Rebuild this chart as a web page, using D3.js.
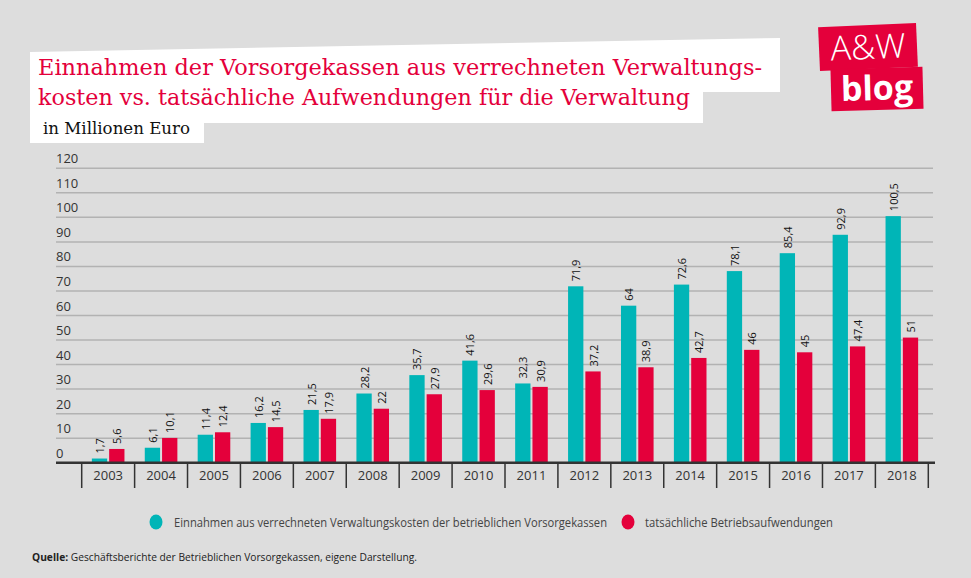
<!DOCTYPE html>
<html><head><meta charset="utf-8">
<script src="https://cdn.jsdelivr.net/npm/d3@7"></script>
<style>html,body{margin:0;padding:0;background:#dddddd;}svg{display:block;}</style>
</head><body><svg id="c" width="971" height="578"></svg>
<script>
const years = ["2003","2004","2005","2006","2007","2008","2009","2010","2011","2012","2013","2014","2015","2016","2017","2018"];
const einnahmen = [1.7,6.1,11.4,16.2,21.5,28.2,35.7,41.6,32.3,71.9,64,72.6,78.1,85.4,92.9,100.5];
const aufwendungen = [5.6,10.1,12.4,14.5,17.9,22,27.9,29.6,30.9,37.2,38.9,42.7,46,45,47.4,51];
const yTicks = [0,10,20,30,40,50,60,70,80,90,100,110,120];
const seriesNames = ["Einnahmen aus verrechneten Verwaltungskosten der betrieblichen Vorsorgekassen","tatsächliche Betriebsaufwendungen"];
const colors = ["#00b5b7","#e4003b"];
const titleLines = ["Einnahmen der Vorsorgekassen aus verrechneten Verwaltungs-","kosten vs. tatsächliche Aufwendungen für die Verwaltung"];
const subtitle = "in Millionen Euro";

const svg = d3.select("#c");
svg.append("rect").attr("width",971).attr("height",578).attr("fill","#dddddd");

// title box
svg.append("path").attr("fill","#ffffff")
  .attr("d","M30,52 L780,38 L780,92 L703,92 L703,123 L204,123 L204,143 L30,143 Z");
svg.append("text").attr("x",38).attr("y",75).text(titleLines[0])
  .attr("font-family","DejaVu Serif").attr("font-size",23).attr("fill","#e4003b")
  .attr("textLength",724).attr("lengthAdjust","spacingAndGlyphs");
svg.append("text").attr("x",38).attr("y",105).text(titleLines[1])
  .attr("font-family","DejaVu Serif").attr("font-size",23).attr("fill","#e4003b")
  .attr("textLength",652).attr("lengthAdjust","spacingAndGlyphs");
svg.append("text").attr("x",43).attr("y",134).text(subtitle)
  .attr("font-family","DejaVu Serif").attr("font-size",17).attr("fill","#111")
  .attr("textLength",147).attr("lengthAdjust","spacingAndGlyphs");

// logo
const logo = svg.append("g");
logo.append("rect").attr("x",-49).attr("y",-22).attr("width",98).attr("height",44)
  .attr("fill","#e4003b").attr("transform","translate(868,47) rotate(-2.5)");
logo.append("text").attr("transform","translate(868,47) rotate(-2.5)").attr("y",12)
  .attr("text-anchor","middle").attr("font-family","Open Sans").attr("font-weight",300)
  .attr("font-size",34).attr("fill","#fff").text("A&W");
logo.append("rect").attr("x",-46).attr("y",-21).attr("width",92).attr("height",42)
  .attr("fill","#e4003b").attr("transform","translate(877,89) rotate(-1.5)");
logo.append("text").attr("transform","translate(877,89) rotate(-1.5)").attr("y",11)
  .attr("text-anchor","middle").attr("font-family","Open Sans").attr("font-weight",700)
  .attr("font-size",34).attr("fill","#fff").text("blog");

// scales
const x = d3.scaleBand().domain(years).range([81.7,928.3]).paddingInner(0).paddingOuter(0);
const y = d3.scaleLinear().domain([0,120]).range([462.7,168.3]);
const barW = 15.3, gap = 2;

// gridlines
const grid = svg.append("g");
grid.selectAll("line").data(yTicks.filter(d=>d>0)).join("line")
  .attr("x1",56).attr("x2",933).attr("y1",d=>y(d)).attr("y2",d=>y(d))
  .attr("stroke","#b2b2b2").attr("stroke-width",1.5);
grid.selectAll("text").data(yTicks).join("text")
  .attr("x",56).attr("y",d=>y(d)-5).text(d=>d)
  .attr("font-family","Open Sans").attr("font-size",13).attr("fill","#333");

// bars
const fmt = v => String(v).replace(".",",");
const series = [einnahmen, aufwendungen];
series.forEach((vals,si)=>{
  const g = svg.append("g");
  const xOff = d => x(d) + x.bandwidth()/2 - barW - gap/2 + si*(barW+gap);
  g.selectAll("rect").data(years).join("rect")
    .attr("x",d=>xOff(d)).attr("width",barW)
    .attr("y",(d,i)=>y(vals[i])).attr("height",(d,i)=>y(0)-y(vals[i]))
    .attr("fill",colors[si]);
  g.selectAll("text").data(years).join("text")
    .attr("transform",(d,i)=>`translate(${xOff(d)+barW/2},${y(vals[i])-5}) rotate(-90)`)
    .attr("dominant-baseline","central")
    .attr("font-family","Open Sans").attr("font-size",11).attr("fill","#111")
    .text((d,i)=>fmt(vals[i]));
});

// x axis
svg.append("line").attr("x1",56).attr("x2",935).attr("y1",y(0)).attr("y2",y(0))
  .attr("stroke","#333").attr("stroke-width",2.5);
const sepX = years.map(d=>x(d)).concat([x.range()[1]]);
svg.append("g").selectAll("line").data(sepX).join("line")
  .attr("x1",d=>d).attr("x2",d=>d).attr("y1",y(0)).attr("y2",488)
  .attr("stroke","#333").attr("stroke-width",1.5);
svg.append("g").selectAll("text").data(years).join("text")
  .attr("x",d=>x(d)+x.bandwidth()/2).attr("y",480).attr("text-anchor","middle")
  .attr("font-family","Open Sans").attr("font-size",13).attr("fill","#333").text(d=>d);

// legend
const leg = [{cx:156,tx:174,tw:433},{cx:628,tx:645,tw:188}];
leg.forEach((l,i)=>{
  svg.append("ellipse").attr("cx",l.cx).attr("cy",522).attr("rx",6.5).attr("ry",7.5).attr("fill",colors[i]);
  svg.append("text").attr("x",l.tx).attr("y",526.5).text(seriesNames[i])
    .attr("font-family","Open Sans").attr("font-size",12.5).attr("fill","#444")
    .attr("textLength",l.tw).attr("lengthAdjust","spacingAndGlyphs");
});

// source
const src = svg.append("text").attr("x",32).attr("y",561)
  .attr("font-family","Open Sans").attr("font-size",11).attr("fill","#222")
  .attr("textLength",385).attr("lengthAdjust","spacingAndGlyphs");
src.append("tspan").attr("font-weight",700).text("Quelle:");
src.append("tspan").text(" Geschäftsberichte der Betrieblichen Vorsorgekassen, eigene Darstellung.");
</script></body></html>
